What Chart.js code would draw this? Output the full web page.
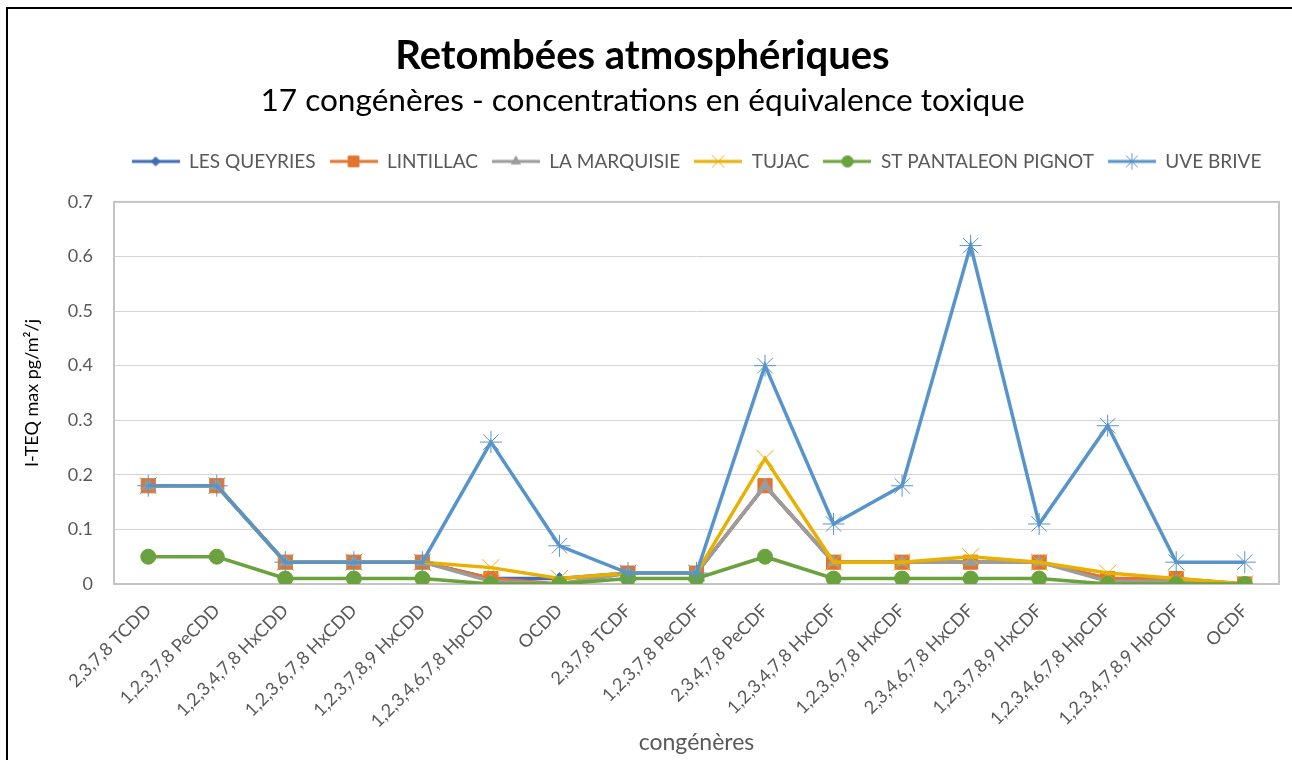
<!DOCTYPE html>
<html>
<head>
<meta charset="utf-8">
<script src="https://cdn.jsdelivr.net/npm/chart.js@4.4.1/dist/chart.umd.min.js"></script>
<style>
	html, body { margin: 0; padding: 0; background: #fff; overflow: hidden; }
	#wrap { position: relative; width: 1292px; height: 760px; overflow: hidden; }
	#frame { position: absolute; left: 6px; top: 7px; width: 1300px; height: 770px;
		border-left: 2px solid #000; border-top: 2px solid #000; }
	#chart { position: absolute; left: 0; top: 0; }
</style>
</head>
<body>
<div id="wrap">
	<div id="frame"></div>
	<canvas id="chart" width="1292" height="760"></canvas>
</div>
<script>
// ── Data ───────────────────────────────────────────────────

const congeneres = [
	'2,3,7,8 TCDD', '1,2,3,7,8 PeCDD', '1,2,3,4,7,8 HxCDD', '1,2,3,6,7,8 HxCDD',
	'1,2,3,7,8,9 HxCDD', '1,2,3,4,6,7,8 HpCDD', 'OCDD', '2,3,7,8 TCDF',
	'1,2,3,7,8 PeCDF', '2,3,4,7,8 PeCDF', '1,2,3,4,7,8 HxCDF', '1,2,3,6,7,8 HxCDF',
	'2,3,4,6,7,8 HxCDF', '1,2,3,7,8,9 HxCDF', '1,2,3,4,6,7,8 HpCDF',
	'1,2,3,4,7,8,9 HpCDF', 'OCDF'
];

const seriesNames = [ 'LES QUEYRIES', 'LINTILLAC', 'LA MARQUISIE', 'TUJAC', 'ST PANTALEON PIGNOT', 'UVE BRIVE' ];

const lesQueyries = [ 0.18, 0.18, 0.04, 0.04, 0.04, 0.01, 0.01, 0.02, 0.02, 0.18, 0.04, 0.04, 0.04, 0.04, 0.01, 0.005, 0 ];
const lintillac   = [ 0.18, 0.18, 0.04, 0.04, 0.04, 0.01, 0, 0.02, 0.02, 0.18, 0.04, 0.04, 0.04, 0.04, 0.01, 0.01, 0 ];
const laMarquisie = [ 0.18, 0.18, 0.04, 0.04, 0.04, 0.005, 0, 0.02, 0.02, 0.18, 0.04, 0.04, 0.04, 0.04, 0.005, 0.005, 0 ];
const tujac       = [ 0.18, 0.18, 0.04, 0.04, 0.04, 0.03, 0.01, 0.02, 0.02, 0.23, 0.04, 0.04, 0.05, 0.04, 0.02, 0.01, 0 ];
const stPantaleon = [ 0.05, 0.05, 0.01, 0.01, 0.01, 0, 0, 0.01, 0.01, 0.05, 0.01, 0.01, 0.01, 0.01, 0, 0, 0 ];
const uveBrive    = [ 0.18, 0.18, 0.04, 0.04, 0.04, 0.26, 0.07, 0.02, 0.02, 0.40, 0.11, 0.18, 0.62, 0.11, 0.29, 0.04, 0.04 ];

const yMin = 0, yMax = 0.7, yStep = 0.1;

// ── Style ──────────────────────────────────────────────────

const font = 'Lato, "Liberation Sans", sans-serif';
const textColor = '#595959';

const styles = [
	{ color: '#3F6DB8', point: 'rectRot',  radius: 6 },
	{ color: '#E2742F', point: 'rect',     radius: 10 },
	{ color: '#9C9C9C', point: 'triangle', radius: 7 },
	{ color: '#E9B000', point: 'crossRot', radius: 12 },
	{ color: '#6AA33E', point: 'circle',   radius: 7.5 },
	{ color: '#5894CC', point: 'star',     radius: 11 },
];

const values = [ lesQueyries, lintillac, laMarquisie, tujac, stPantaleon, uveBrive ];

// line + marker icon for the legend
function legendIcon( s ) {
	const c = document.createElement( 'canvas' );
	c.width = 48; c.height = 22;
	const ctx = c.getContext( '2d' );
	ctx.strokeStyle = s.color;
	ctx.lineWidth = 3;
	ctx.beginPath(); ctx.moveTo( 0, 11 ); ctx.lineTo( 48, 11 ); ctx.stroke();
	ctx.fillStyle = s.color;
	ctx.lineWidth = 1;
	Chart.helpers.drawPoint( ctx, { pointStyle: s.point, radius: s.radius * 0.75, rotation: 0, borderWidth: 1 }, 24, 11 );
	return c;
}
const icons = styles.map( legendIcon );

// grey box around the plot area
const plotBorder = {
	id: 'plotBorder',
	beforeDatasetsDraw( chart ) {
		const { ctx, chartArea: a } = chart;
		ctx.save();
		ctx.strokeStyle = '#C4C4C4';
		ctx.lineWidth = 2;
		ctx.strokeRect( a.left, a.top, a.right - a.left, a.bottom - a.top );
		ctx.restore();
	},
};

new Chart( document.getElementById( 'chart' ), {
	type: 'line',
	data: {
		labels: congeneres,
		datasets: seriesNames.map( ( name, i ) => ( {
			label            : name,
			data             : values[ i ],
			borderColor      : styles[ i ].color,
			backgroundColor  : styles[ i ].color,
			borderWidth      : 3.5,
			pointStyle       : styles[ i ].point,
			pointRadius      : styles[ i ].radius,
			pointBorderWidth : 1,
			tension          : 0,
			order            : seriesNames.length - i,
		} ) ),
	},
	options: {
		responsive : false,
		animation  : false,
		layout     : { padding: { left: 0, right: 7, top: 0, bottom: 0 } },
		plugins: {
			tooltip: { enabled: false },
			title: {
				display : true,
				text    : 'Retombées atmosphériques',
				color   : '#000',
				font    : { family: font, size: 40, weight: 'bold' },
				padding : { top: 32, bottom: 0 },
			},
			subtitle: {
				display : true,
				text    : '17 congénères - concentrations en équivalence toxique',
				color   : '#000',
				font    : { family: font, size: 31.6 },
				padding : { top: 2, bottom: 18 },
			},
			legend: {
				fullSize : false,
				labels: {
					usePointStyle   : true,
					pointStyleWidth : 48,
					boxHeight       : 19,
					padding         : 14,
					color           : textColor,
					font            : { family: font, size: 19 },
					sort            : ( a, b ) => a.datasetIndex - b.datasetIndex,
					generateLabels  : ( chart ) => {
						const items = Chart.defaults.plugins.legend.labels.generateLabels( chart );
						items.forEach( ( it ) => { it.pointStyle = icons[ it.datasetIndex ]; } );
						return items;
					},
				},
			},
		},
		scales: {
			x: {
				offset : true,
				grid   : { display: false, drawTicks: false },
				border : { display: false },
				ticks: {
					autoSkip    : false,
					minRotation : 45,
					maxRotation : 45,
					padding     : 16,
					color       : textColor,
					font        : { family: font, size: 18 },
				},
				title: {
					display : true,
					text    : 'congénères',
					color   : textColor,
					font    : { family: font, size: 23 },
					padding : { top: 0, bottom: 4 },
				},
				afterFit: ( s ) => { s.height = 176; },
			},
			// empty top band: gap between legend and plot area
			gap: {
				type     : 'category',
				position : 'top',
				grid     : { display: false, drawTicks: false },
				border   : { display: false },
				ticks    : { display: false },
				afterFit : ( s ) => { s.height = 21; },
			},
			y: {
				min    : yMin,
				max    : yMax,
				grid   : { color: '#D4D4D4', lineWidth: 1, drawTicks: false },
				border : { display: false },
				ticks: {
					stepSize : yStep,
					padding  : 21,
					color    : textColor,
					font     : { family: font, size: 18 },
				},
				title: {
					display : true,
					text    : 'I-TEQ max pg/m²/j',
					color   : '#000',
					font    : { family: font, size: 18 },
					padding : { top: 21, bottom: 0 },
				},
				afterFit: ( s ) => { s.width = 114; },
			},
		},
	},
	plugins: [ plotBorder ],
} );
</script>
</body>
</html>
